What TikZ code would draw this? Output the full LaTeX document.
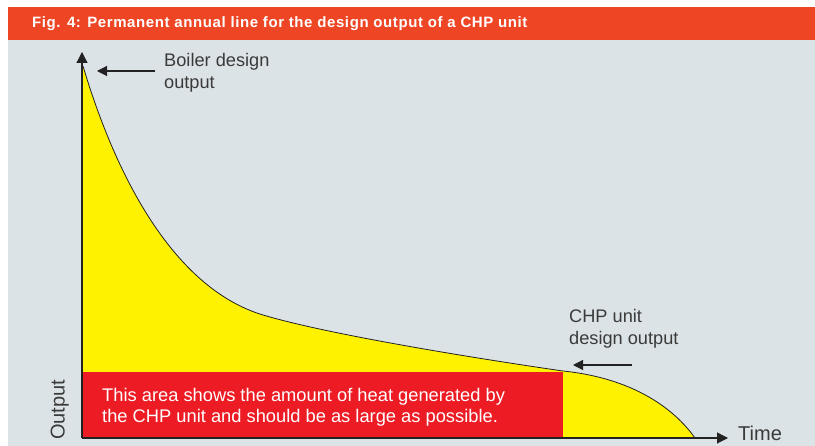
\documentclass[tikz,border=0pt]{standalone}
\usepackage{fontspec}
\setmainfont{Liberation Sans}
\newfontfamily\titlefont[LetterSpace=4]{Liberation Sans}
\usetikzlibrary{arrows.meta}
\definecolor{hdr}{HTML}{EE4524}
\definecolor{bg}{HTML}{DCE3E6}
\definecolor{yel}{HTML}{FFF200}
\definecolor{redbox}{HTML}{ED1C24}
\definecolor{txt}{HTML}{3A3A3A}
\definecolor{axis}{HTML}{222222}
\tikzset{
  axisline/.style={draw=axis, line width=1.2pt, -{Triangle[length=11pt,width=11pt]}},
  pointer/.style={draw=axis, line width=1.1pt, -{Triangle[length=10pt,width=10pt]}},
  lbl/.style={text=txt, font=\fontsize{18.2}{22}\selectfont, inner sep=0pt, align=left},
  boxtxt/.style={text=white, font=\fontsize{18.3}{21}\selectfont, inner sep=0pt, align=left},
  axlbl/.style={text=txt, font=\fontsize{20}{24}\selectfont, inner sep=0pt},
}
\begin{document}
\begin{tikzpicture}[x=1pt,y=-1pt]
\useasboundingbox (0,0) rectangle (815,446);
% backgrounds
\fill[white] (0,0) rectangle (815,446);
\fill[bg] (8,40) rectangle (815,446);
\fill[hdr] (8,7) rectangle (815,40);
\node[anchor=base west, inner sep=0pt, text=white, font=\titlefont\fontsize{15}{17}\selectfont\bfseries] (title) at (32,28) {Fig. 4: Permanent annual line for the design output of a CHP unit};
% coordinates
\coordinate (O) at (82,438);
\coordinate (ytip) at (82,52);
\coordinate (xtip) at (728,438);
\coordinate (c0) at (83,66);
\coordinate (c1) at (263,315);
\coordinate (c2) at (563,371);
\coordinate (c3) at (695,438);
% yellow area
\fill[yel] (O) -- (82,66) -- (c0) .. controls (120,190) and (180,290) .. (c1)
  .. controls (330,335) and (480,359) .. (c2)
  .. controls (640,379) and (678,414) .. (c3) -- cycle;
% red area
\fill[redbox] (82,372) rectangle (563,438);
% curve
\draw[axis, line width=0.8pt] (c0) .. controls (120,190) and (180,290) .. (c1)
  .. controls (330,335) and (480,359) .. (c2)
  .. controls (640,379) and (678,414) .. (c3);
% axes
\draw[axisline] (O) -- (ytip);
\draw[axisline] (O) -- (xtip);
% labels
\node[axlbl, anchor=base west] (time) at (738,441) {Time};
\node[axlbl, anchor=base west, rotate=90] (output) at (64.5,440) {Output};
\node[lbl, anchor=base west] (boiler) at (164,89) {Boiler design\\output};
\node[lbl, anchor=base west] (chp) at (569,345) {CHP unit\\design output};
\node[boxtxt, anchor=base west] (area) at (102,423) {This area shows the amount of heat generated by\\the CHP unit and should be as large as possible.};
% pointers
\coordinate (bp) at (97,71);
\coordinate (cp) at (573,365);
\draw[pointer] (155,71) -- (bp);
\draw[pointer] (632,365) -- (cp);
\end{tikzpicture}
\end{document}
